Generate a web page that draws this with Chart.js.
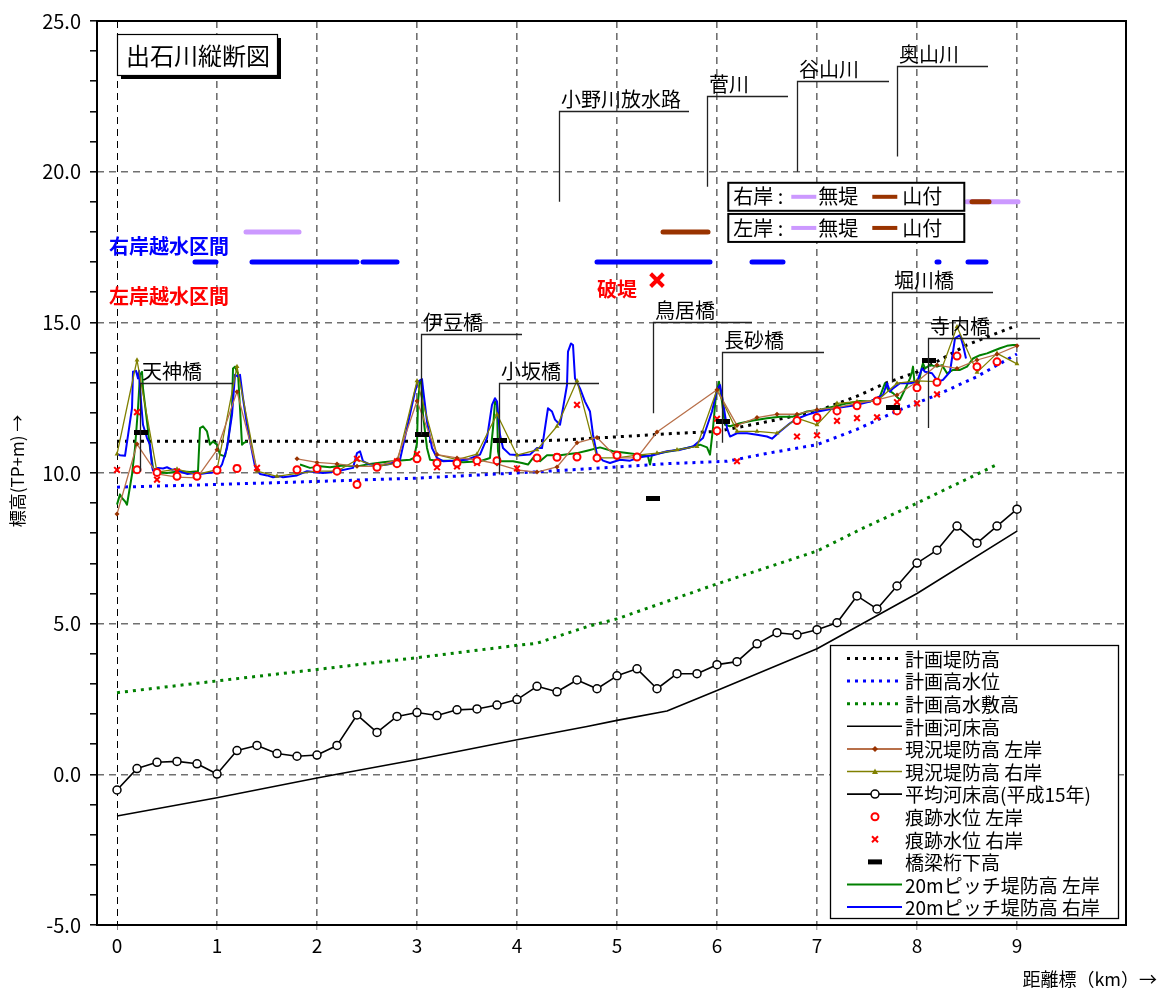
<!DOCTYPE html>
<html><head><meta charset="utf-8">
<script src="https://cdn.jsdelivr.net/npm/chart.js@4.4.1/dist/chart.umd.min.js"></script>
<style>html,body{margin:0;padding:0;background:#fff}</style>
</head><body>
<canvas id="c" width="1163" height="994"></canvas>
<script>
// ---------------- DATA ----------------
const xTicks = [0,1,2,3,4,5,6,7,8,9];

const planDikeKm = [0, 4.0, 4.5, 5.0, 5.5, 6.0, 6.5, 7.0, 7.4, 7.7, 8.0, 8.2, 8.5, 9.0];
const planDikeH  = [11.05, 11.05, 11.1, 11.2, 11.3, 11.38, 11.7, 12.05, 12.55, 13.0, 13.35, 13.7, 14.25, 14.9];

const hwlKm = [0, 1, 2, 3, 4, 4.4, 5, 5.5, 6.1, 6.5, 7, 7.4, 7.8, 8.2, 8.6, 9];
const hwlH  = [9.53, 9.62, 9.72, 9.83, 10.0, 10.08, 10.2, 10.31, 10.39, 10.65, 10.94, 11.45, 12.06, 12.59, 13.2, 13.95];

const hwcKm = [0, 1, 2, 3, 4, 4.2, 4.7, 5, 6, 7, 7.46, 8, 8.78];
const hwcH  = [2.71, 3.1, 3.48, 3.87, 4.28, 4.35, 4.9, 5.16, 6.32, 7.41, 8.17, 9.0, 10.25];

const planBedKm = [0, 1, 2, 2.2, 3, 4, 4.7, 5, 5.5, 6, 7, 8, 9];
const planBedH  = [-1.38, -0.78, -0.12, 0.0, 0.49, 1.15, 1.59, 1.79, 2.1, 2.78, 4.17, 6.0, 8.07];

const stationKm = [0,0.2,0.4,0.6,0.8,1.0,1.2,1.4,1.6,1.8,2.0,2.2,2.4,2.6,2.8,3.0,3.2,3.4,3.6,3.8,4.0,4.2,4.4,4.6,4.8,5.0,5.2,5.4,5.6,5.8,6.0,6.2,6.4,6.6,6.8,7.0,7.2,7.4,7.6,7.8,8.0,8.2,8.4,8.6,8.8,9.0];
const meanBedH = [-0.52,0.19,0.40,0.43,0.35,0.01,0.79,0.96,0.69,0.60,0.64,0.96,1.97,1.39,1.92,2.05,1.95,2.14,2.17,2.30,2.48,2.92,2.74,3.13,2.84,3.27,3.50,2.84,3.34,3.34,3.64,3.74,4.33,4.70,4.63,4.80,5.03,5.92,5.49,6.25,7.01,7.44,8.24,7.67,8.24,8.80];

const leftDikeKm = [0,0.2,0.4,0.6,0.8,1.0,1.2,1.4,1.6,1.8,2.0,2.2,2.4,2.6,2.8,3.0,3.2,3.4,3.6,3.8,4.0,4.2,4.4,4.6,4.8,5.0,5.2,5.4,6.0,6.2,6.4,6.6,6.8,7.0,7.2,7.4,7.6,7.8,8.0,8.2,8.4,8.6,8.8,9.0];
const leftDikeH  = [8.64,10.96,9.97,9.86,9.84,10.77,12.70,10.11,null,10.47,10.35,10.30,10.22,10.22,10.44,12.39,10.61,10.50,10.44,10.30,10.10,10.03,10.20,11.00,11.18,10.50,10.50,11.36,12.76,11.58,11.84,11.95,11.95,12.10,12.17,12.31,12.43,12.59,13.03,13.58,13.47,13.75,13.94,14.22];

const rightDikeH = [10.63,13.75,10.03,10.13,9.95,10.11,13.53,10.06,9.89,9.99,10.06,10.06,10.44,10.22,10.33,13.06,10.61,10.44,10.63,11.95,10.59,10.77,11.55,13.06,10.50,10.50,10.59,10.66,10.77,10.88,12.76,11.38,11.38,11.32,11.82,11.60,12.31,12.37,12.39,12.98,13.06,13.03,14.85,13.34,13.97,13.62];

const traceLeftKm = [0.2,0.4,0.6,0.8,1.0,1.2,1.8,2.0,2.2,2.4,2.6,2.8,3.0,3.2,3.4,3.6,3.8,4.2,4.4,4.6,4.8,5.0,5.2,6.0,6.8,7.0,7.2,7.4,7.6,7.8,8.0,8.2,8.4,8.6,8.8];
const traceLeftH  = [10.11,10.02,9.89,9.89,10.09,10.15,10.11,10.15,10.06,9.62,10.19,10.31,10.47,10.33,10.33,10.41,10.41,10.50,10.52,10.53,10.50,10.59,10.53,11.40,11.74,11.84,12.06,12.23,12.39,12.06,12.83,13.01,13.88,13.53,13.69];

const traceRightKm = [0,0.2,0.4,0.6,1.0,1.2,1.4,2.4,2.8,3.0,3.2,3.4,3.6,3.8,4.0,4.2,4.4,4.6,6.0,6.2,6.8,7.0,7.2,7.4,7.6,7.8,8.0,8.2];
const traceRightH  = [10.10,12.02,9.78,10.05,10.11,10.17,10.17,10.47,10.39,10.63,10.19,10.22,10.33,10.41,10.15,10.50,10.55,12.26,11.80,10.39,11.21,11.25,11.73,11.82,11.85,12.35,12.31,12.61];

const girderKm = [0.24, 3.05, 3.83, 5.36, 6.06, 7.76, 8.12];
const girderH  = [11.36, 11.27, 11.08, 9.17, 11.70, 12.17, 13.73];

const pitchLeftKm = [0.00,0.03,0.05,0.08,0.10,0.15,0.18,0.21,0.23,0.25,0.26,0.30,0.33,0.36,0.41,0.50,0.63,0.73,0.81,0.83,0.86,0.90,0.93,0.96,1.00,1.03,1.08,1.11,1.15,1.16,1.18,1.20,1.21,1.23,1.25,1.27,1.30,1.31,1.83,1.93,2.03,2.13,2.26,2.40,2.53,2.66,2.80,2.93,2.97,3.00,3.01,3.03,3.05,3.06,3.10,3.13,3.20,3.33,3.46,3.63,3.73,3.76,3.78,3.80,3.81,3.83,3.96,4.05,4.11,4.16,4.20,4.23,4.30,4.43,4.60,4.70,4.83,4.96,5.10,5.23,5.31,5.33,5.35,5.43,5.56,5.70,5.83,5.90,5.93,5.96,5.99,6.02,6.05,6.08,6.13,6.23,6.36,6.50,6.63,6.76,6.90,7.03,7.16,7.30,7.43,7.53,7.63,7.68,7.71,7.76,7.83,7.90,7.93,7.95,7.96,7.98,8.01,8.05,8.06,8.08,8.13,8.20,8.25,8.30,8.36,8.43,8.50,8.56,8.63,8.70,8.76,8.83,8.90,8.96,9.00];
const pitchLeftH  = [8.95,9.29,9.17,9.06,8.95,9.95,10.83,12.15,13.26,13.36,12.81,11.71,10.83,10.17,10.02,10.00,10.06,10.03,10.06,11.49,11.55,11.38,10.94,11.05,10.94,10.61,10.55,11.05,12.15,13.47,13.53,13.36,13.31,12.15,10.94,11.00,11.05,null,10.28,10.17,10.22,10.19,10.25,10.22,10.30,10.36,10.41,10.44,10.50,11.00,12.37,13.03,12.95,11.93,10.83,10.44,10.41,10.41,10.36,10.39,10.50,11.49,12.37,12.26,10.72,10.39,10.39,10.33,10.28,10.50,10.45,10.39,10.59,10.59,10.66,10.74,10.85,10.72,10.66,10.61,10.55,10.28,10.61,10.66,10.74,10.83,10.94,10.85,10.61,11.49,12.59,13.03,12.37,11.60,11.55,11.65,11.74,11.82,11.87,11.87,12.04,12.10,12.20,12.31,12.39,12.37,12.54,12.98,12.76,12.65,12.43,12.92,13.14,13.36,13.53,12.81,12.87,13.53,13.64,13.47,13.58,13.53,13.58,13.31,13.42,13.42,13.53,13.80,13.91,13.97,14.05,14.14,14.22,14.25,14.25];

const pitchRightKm = [0.00,0.03,0.08,0.15,0.16,0.19,0.21,0.22,0.24,0.26,0.30,0.33,0.35,0.36,0.41,0.46,0.50,0.55,0.60,0.65,0.70,0.76,0.83,0.90,0.96,1.01,1.05,1.10,1.15,1.18,1.21,1.23,1.26,1.30,1.35,1.38,1.43,1.50,1.56,1.63,1.66,1.80,1.90,2.06,2.20,2.36,2.40,2.43,2.46,2.53,2.63,2.73,2.83,2.90,2.98,3.01,3.05,3.06,3.10,3.15,3.20,3.26,3.36,3.50,3.63,3.70,3.75,3.78,3.80,3.83,3.86,3.93,4.03,4.13,4.20,4.25,4.31,4.35,4.38,4.43,4.46,4.50,4.51,4.54,4.56,4.58,4.63,4.68,4.73,4.76,4.80,4.86,4.93,5.03,5.13,5.23,5.36,5.50,5.63,5.76,5.86,5.95,6.00,6.03,6.06,6.10,6.13,6.20,6.30,6.40,6.50,6.55,6.63,6.73,6.80,6.90,7.01,7.10,7.23,7.40,7.53,7.63,7.66,7.70,7.73,7.76,7.83,7.93,8.00,8.05,8.08,8.15,8.21,8.26,8.33,8.38,8.43,8.46,8.49];
const pitchRightH  = [10.63,10.59,10.57,12.15,13.36,13.39,13.14,13.39,12.37,11.60,11.16,10.94,10.22,10.08,10.17,10.15,10.19,10.11,10.13,10.02,9.97,9.99,9.97,10.00,10.02,10.08,10.28,10.83,11.93,13.26,13.20,13.26,12.48,11.60,10.72,10.22,9.97,9.92,9.86,9.89,9.86,9.92,10.06,10.00,10.06,10.17,10.66,10.72,10.39,10.28,10.25,10.30,10.44,11.49,12.70,13.03,13.12,12.81,11.71,10.83,10.50,10.39,10.41,10.44,10.61,11.16,12.26,12.48,12.37,11.27,10.83,10.61,10.59,10.61,10.83,10.83,12.15,12.04,11.77,11.60,12.15,12.92,14.03,14.30,14.25,13.14,12.81,12.37,12.04,11.27,10.61,10.41,10.33,10.44,10.41,10.52,10.59,10.72,10.77,10.88,11.16,12.04,12.76,12.92,12.37,11.49,11.21,11.32,11.32,11.27,11.21,11.14,11.38,11.65,11.80,11.93,12.04,12.10,12.17,12.26,12.37,12.54,12.59,12.98,12.70,12.81,12.98,12.98,13.03,13.47,13.36,13.31,13.03,13.09,13.36,14.47,14.58,14.25,13.80];

// overflow sections (right bank) and bank types
const overflowRightLevel = 17.0;
const overflowRightKm = [[0.78,0.99],[1.35,2.40],[2.46,2.80],[4.80,5.93],[6.35,6.66],[8.20,8.22],[8.51,8.69]];
const leftBankLevel = 18.0, rightBankLevel = 19.0;
const leftNoDikeKm = [[1.29,1.82]];
const leftMountainKm = [[5.46,5.91]];
const rightNoDikeKm = [[8.50,9.01]];
const rightMountainKm = [[8.55,8.72]];
const breachKm = [5.40], breachH = [16.4];

// annotations (leader lines): km of line, bottom & top level, end km of underline
const bridgeNotes = [
  {t:'天神橋', km:0.23, lo:10.05, hi:13.0, end:1.16},
  {t:'伊豆橋', km:3.04, lo:11.27, hi:14.6, end:4.05},
  {t:'小坂橋', km:3.82, lo:9.95, hi:13.0, end:4.82},
  {t:'鳥居橋', km:5.36, lo:11.98, hi:15.0, end:6.35},
  {t:'長砂橋', km:6.05, lo:11.0, hi:14.0, end:7.07},
  {t:'堀川橋', km:7.75, lo:13.0, hi:16.0, end:8.76},
  {t:'寺内橋', km:8.11, lo:11.49, hi:14.47, end:9.23}
];
const riverNotes = [
  {t:'小野川放水路', km:4.42, lo:19.0, hi:22.0, end:5.72},
  {t:'菅川', km:5.90, lo:19.5, hi:22.5, end:6.71},
  {t:'谷山川', km:6.80, lo:20.0, hi:23.0, end:7.72},
  {t:'奥山川', km:7.80, lo:20.5, hi:23.5, end:8.71}
];

// ---------------- STYLE ----------------
const FONT = "'Noto Sans CJK JP', 'Noto Sans', sans-serif";
const BROWN_LINE = '#B8704A', BROWN_MARK = '#993300', OLIVE = '#808000';
const LAVENDER = '#CC99FF', MOUNTAIN = '#993300';
const BLUE = '#0000FF', GREEN = '#008000', RED = '#FF0000';

const pts = (xs, ys) => xs.map((x, i) => ({x: x, y: ys[i]}));
const segs = (list, level) => {
  const out = [];
  list.forEach(s => { out.push({x: s[0], y: level}); out.push({x: s[1], y: level}); out.push({x: s[1] + 0.0001, y: null}); });
  return out;
};

const girderImg = document.createElement('canvas');
girderImg.width = 14; girderImg.height = 5;
(() => { const g = girderImg.getContext('2d'); g.fillStyle = '#000'; g.fillRect(0, 0, 14, 5); })();

const dotted = [3, 5];
const datasets = [
  {label:'bridge', data: pts(girderKm, girderH), showLine:false, pointStyle: girderImg, pointRadius:7, order:0},
  {label:'breach', data: pts(breachKm, breachH), showLine:false, pointStyle:'crossRot', pointRadius:9, pointBorderWidth:4, borderColor:RED, order:0},
  {label:'traceL', data: pts(traceLeftKm, traceLeftH), showLine:false, pointStyle:'circle', pointRadius:3.5, pointBorderWidth:2, borderColor:RED, backgroundColor:'#fff', order:1},
  {label:'traceR', data: pts(traceRightKm, traceRightH), showLine:false, pointStyle:'crossRot', pointRadius:4, pointBorderWidth:2, borderColor:RED, order:1},
  {label:'leftDike', data: pts(leftDikeKm, leftDikeH), borderColor:BROWN_LINE, borderWidth:1.3, pointStyle:'rectRot', pointRadius:2.5, pointBackgroundColor:BROWN_MARK, pointBorderColor:BROWN_MARK, pointBorderWidth:0, order:2},
  {label:'rightDike', data: pts(stationKm, rightDikeH), borderColor:OLIVE, borderWidth:1.3, pointStyle:'triangle', pointRadius:2.8, pointBackgroundColor:OLIVE, pointBorderColor:OLIVE, pointBorderWidth:0, order:2},
  {label:'pitchR', data: pts(pitchRightKm, pitchRightH), borderColor:BLUE, borderWidth:2, pointRadius:0, order:3},
  {label:'pitchL', data: pts(pitchLeftKm, pitchLeftH), borderColor:GREEN, borderWidth:2, pointRadius:0, order:4},
  {label:'planDike', data: pts(planDikeKm, planDikeH), borderColor:'#000', borderWidth:3, borderDash:dotted, pointRadius:0, order:5},
  {label:'hwl', data: pts(hwlKm, hwlH), borderColor:BLUE, borderWidth:3, borderDash:dotted, pointRadius:0, order:5},
  {label:'hwc', data: pts(hwcKm, hwcH), borderColor:GREEN, borderWidth:3, borderDash:dotted, pointRadius:0, order:5},
  {label:'planBed', data: pts(planBedKm, planBedH), borderColor:'#000', borderWidth:1.6, pointRadius:0, order:5},
  {label:'meanBed', data: pts(stationKm, meanBedH), borderColor:'#000', borderWidth:1.6, pointStyle:'circle', pointRadius:4, pointBorderWidth:1.5, pointBorderColor:'#000', pointBackgroundColor:'#fff', order:5},
  {label:'overflowR', data: segs(overflowRightKm, overflowRightLevel), borderColor:BLUE, borderWidth:5, borderCapStyle:'round', pointRadius:0, order:6},
  {label:'leftNoDike', data: segs(leftNoDikeKm, leftBankLevel), borderColor:LAVENDER, borderWidth:5, borderCapStyle:'round', pointRadius:0, order:7},
  {label:'rightNoDike', data: segs(rightNoDikeKm, rightBankLevel), borderColor:LAVENDER, borderWidth:5, borderCapStyle:'round', pointRadius:0, order:7},
  {label:'leftMount', data: segs(leftMountainKm, leftBankLevel), borderColor:MOUNTAIN, borderWidth:5, borderCapStyle:'round', pointRadius:0, order:6},
  {label:'rightMount', data: segs(rightMountainKm, rightBankLevel), borderColor:MOUNTAIN, borderWidth:5, borderCapStyle:'round', pointRadius:0, order:6}
];
datasets.forEach(d => { d.fill = false; d.tension = 0; d.spanGaps = false; if (d.backgroundColor === undefined) d.backgroundColor = d.borderColor; });

// ---------------- LEGEND ITEMS ----------------
const legendItems = [
  {t:'計画堤防高', line:{c:'#000', w:3, d:dotted}},
  {t:'計画高水位', line:{c:BLUE, w:3, d:dotted}},
  {t:'計画高水敷高', line:{c:GREEN, w:3, d:dotted}},
  {t:'計画河床高', line:{c:'#000', w:1.6}},
  {t:'現況堤防高 左岸', line:{c:BROWN_LINE, w:2}, m:'diamond', mc:BROWN_MARK},
  {t:'現況堤防高 右岸', line:{c:OLIVE, w:1.5}, m:'triangle', mc:OLIVE},
  {t:'平均河床高(平成15年)', line:{c:'#000', w:1.6}, m:'open'},
  {t:'痕跡水位 左岸', m:'rcircle'},
  {t:'痕跡水位 右岸', m:'rx'},
  {t:'橋梁桁下高', m:'dash'},
  {t:'20mピッチ堤防高 左岸', line:{c:GREEN, w:2}},
  {t:'20mピッチ堤防高 右岸', line:{c:BLUE, w:2}}
];

function drawMark(ctx, m, x, y, c) {
  ctx.save();
  if (m === 'diamond') { ctx.fillStyle = c; ctx.beginPath(); ctx.moveTo(x, y-3); ctx.lineTo(x+3, y); ctx.lineTo(x, y+3); ctx.lineTo(x-3, y); ctx.closePath(); ctx.fill(); }
  else if (m === 'triangle') { ctx.fillStyle = c; ctx.beginPath(); ctx.moveTo(x, y-3); ctx.lineTo(x+3, y+2.5); ctx.lineTo(x-3, y+2.5); ctx.closePath(); ctx.fill(); }
  else if (m === 'open') { ctx.fillStyle = '#fff'; ctx.strokeStyle = '#000'; ctx.lineWidth = 1.5; ctx.beginPath(); ctx.arc(x, y, 4, 0, Math.PI*2); ctx.fill(); ctx.stroke(); }
  else if (m === 'rcircle') { ctx.fillStyle = '#fff'; ctx.strokeStyle = RED; ctx.lineWidth = 2; ctx.beginPath(); ctx.arc(x, y, 3.5, 0, Math.PI*2); ctx.fill(); ctx.stroke(); }
  else if (m === 'rx') { ctx.strokeStyle = RED; ctx.lineWidth = 2; ctx.beginPath(); ctx.moveTo(x-3, y-3); ctx.lineTo(x+3, y+3); ctx.moveTo(x+3, y-3); ctx.lineTo(x-3, y+3); ctx.stroke(); }
  else if (m === 'dash') { ctx.fillStyle = '#000'; ctx.fillRect(x-7, y-2.5, 14, 5); }
  ctx.restore();
}

// ---------------- PLUGIN ----------------
const deco = {
  id: 'deco',
  afterDatasetsDraw(chart) {
    const ctx = chart.ctx, xs = chart.scales.x, ys = chart.scales.y, ca = chart.chartArea;
    const X = v => xs.getPixelForValue(v), Y = v => ys.getPixelForValue(v);
    ctx.save();
    // leader-line labels
    ctx.font = '20px ' + FONT;
    ctx.textBaseline = 'alphabetic';
    ctx.textAlign = 'left';
    [...bridgeNotes, ...riverNotes].forEach(n => {
      ctx.strokeStyle = '#222'; ctx.lineWidth = 1.3; ctx.setLineDash([]);
      ctx.beginPath();
      ctx.moveTo(Math.round(X(n.km)) + 0.5, Y(n.lo));
      ctx.lineTo(Math.round(X(n.km)) + 0.5, Math.round(Y(n.hi)) + 0.5);
      ctx.lineTo(X(n.end), Math.round(Y(n.hi)) + 0.5);
      ctx.stroke();
      ctx.fillStyle = '#000';
      ctx.fillText(n.t, X(n.km) + 2, Y(n.hi) - 4);
    });
    // overflow section labels
    ctx.font = 'bold 20px ' + FONT;
    ctx.textBaseline = 'middle';
    ctx.fillStyle = BLUE; ctx.fillText('右岸越水区間', ca.left + 12, Y(17.53));
    ctx.fillStyle = RED; ctx.fillText('左岸越水区間', ca.left + 12, Y(15.85));
    ctx.fillText('破堤', X(4.80), Y(16.1));

    // bank-type legend boxes
    const boxes = [{t:'右岸', v:19.0}, {t:'左岸', v:18.0}];
    const bx = X(6.113), bw = X(8.473) - X(6.113);
    boxes.forEach(b => {
      const cy = Y(b.v) - 5 + (b.v === 19.0 ? 0 : 1);
      const top = cy - 14, h = 28;
      ctx.fillStyle = '#fff'; ctx.fillRect(bx, top, bw, h);
      ctx.strokeStyle = '#000'; ctx.lineWidth = 2; ctx.strokeRect(bx, top, bw, h);
      ctx.fillStyle = '#000'; ctx.font = '20px ' + FONT; ctx.textBaseline = 'middle';
      ctx.fillText(b.t + ' :', bx + 5, cy);
      ctx.lineWidth = 4;
      ctx.strokeStyle = LAVENDER; ctx.beginPath(); ctx.moveTo(bx + 63, cy); ctx.lineTo(bx + 88, cy); ctx.stroke();
      ctx.fillStyle = '#000'; ctx.fillText('無堤', bx + 90, cy);
      ctx.strokeStyle = MOUNTAIN; ctx.beginPath(); ctx.moveTo(bx + 144, cy); ctx.lineTo(bx + 169, cy); ctx.stroke();
      ctx.fillStyle = '#000'; ctx.fillText('山付', bx + 174, cy);
    });

    // title box
    const tx = ca.left + 20, ty = ca.top + 13, tw = 160, th = 41;
    ctx.fillStyle = '#000'; ctx.fillRect(tx + 4, ty + 4, tw, th);
    ctx.fillStyle = '#fff'; ctx.fillRect(tx, ty, tw, th);
    ctx.strokeStyle = '#000'; ctx.lineWidth = 1.2; ctx.strokeRect(tx + 0.5, ty + 0.5, tw, th);
    ctx.fillStyle = '#000'; ctx.font = '24px ' + FONT; ctx.textAlign = 'center'; ctx.textBaseline = 'middle';
    ctx.fillText('出石川縦断図', tx + tw / 2 + 1, ty + th / 2 + 1);

    // main legend
    const lx = 830, ly = 645, lw = 288, lh = 273;
    ctx.fillStyle = '#fff'; ctx.fillRect(lx, ly, lw, lh);
    ctx.strokeStyle = '#000'; ctx.lineWidth = 1.3; ctx.strokeRect(lx + 0.5, ly + 0.5, lw, lh);
    ctx.textAlign = 'left'; ctx.font = '19px ' + FONT;
    legendItems.forEach((it, i) => {
      const cy = ly + 13.5 + i * 22.6;
      if (it.line) {
        ctx.save();
        ctx.strokeStyle = it.line.c; ctx.lineWidth = it.line.w; ctx.setLineDash(it.line.d || []);
        ctx.beginPath(); ctx.moveTo(lx + 17, cy); ctx.lineTo(lx + 72, cy); ctx.stroke();
        ctx.restore();
      }
      if (it.m) drawMark(ctx, it.m, lx + 45, cy, it.mc);
      ctx.fillStyle = '#000'; ctx.fillText(it.t, lx + 75, cy + 1);
    });

    // frame
    ctx.strokeStyle = '#000'; ctx.lineWidth = 2; ctx.setLineDash([]);
    ctx.beginPath();
    ctx.rect(ca.left, ca.top, ca.right - ca.left, ca.bottom - ca.top);
    ctx.stroke();

    // axis titles
    ctx.fillStyle = '#000'; ctx.font = '18px ' + FONT; ctx.textBaseline = 'middle';
    ctx.textAlign = 'right';
    ctx.fillText('距離標（km）→', 1157, 979);
    ctx.save();
    ctx.translate(18, 471); ctx.rotate(-Math.PI / 2);
    ctx.textAlign = 'center'; ctx.font = '17px ' + FONT;
    ctx.fillText('標高(TP+m) →', 0, 0);
    ctx.restore();
    ctx.restore();
  }
};

new Chart(document.getElementById('c'), {
  type: 'line',
  data: {datasets: datasets},
  plugins: [deco],
  options: {
    responsive: false,
    animation: false,
    parsing: true,
    layout: {padding: {left: 0, right: 37, top: 18, bottom: 0}},
    plugins: {legend: {display: false}, tooltip: {enabled: false}, title: {display: false}},
    elements: {line: {borderJoinStyle: 'round'}},
    scales: {
      x: {
        type: 'linear', min: -0.2, max: 10.09,
        afterBuildTicks: s => { s.ticks = xTicks.map(v => ({value: v})); },
        afterFit: s => { s.height = 69; },
        border: {display: false, dash: [7, 5]},
        grid: {
          color: c => (c.tick && c.tick.value === 0) ? '#000' : '#707070',
          lineWidth: c => (c.tick && c.tick.value === 0) ? 1 : 1.6,
          drawTicks: true, tickLength: 5, tickColor: '#888', tickWidth: 1
        },
        ticks: {autoSkip: false, maxRotation: 0, color: '#000', padding: 4, font: {family: FONT, size: 19},
                callback: v => String(v)}
      },
      y: {
        type: 'linear', min: -5, max: 25,
        afterFit: s => { s.width = 97; },
        border: {display: false, dash: [7, 5]},
        grid: {
          color: c => (c.tick && c.tick.value % 5 === 0 && c.tick.value > -5 && c.tick.value < 25) ? '#707070' : 'rgba(0,0,0,0)',
          lineWidth: 1.6, drawTicks: true, tickLength: 7, tickColor: '#000', tickWidth: 1.5
        },
        ticks: {stepSize: 1, autoSkip: false, color: '#000', padding: 9, font: {family: FONT, size: 20},
                callback: v => (v % 5 === 0 ? v.toFixed(1) : '')}
      }
    }
  }
});
</script>
</body></html>
